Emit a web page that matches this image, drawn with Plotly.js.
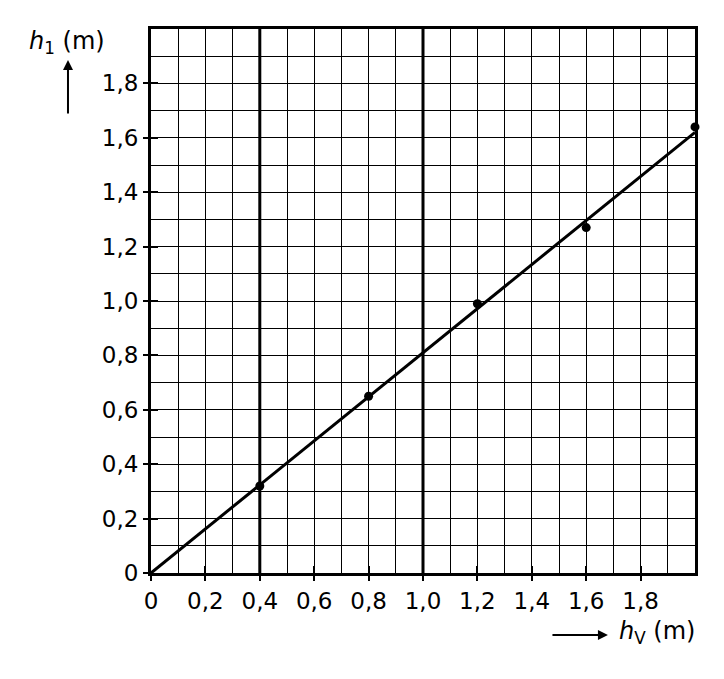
<!DOCTYPE html>
<html>
<head>
<meta charset="utf-8">
<script src="https://cdn.plot.ly/plotly-3.0.1.min.js"></script>
<style>
  body { margin: 0; background: #fff; }
  #chart { width: 724px; height: 679px; }
</style>
</head>
<body>
<div id="chart"></div>
<script>
// measured points h_v -> h_1 (m)
const hv = [0.4, 0.8, 1.2, 1.6, 2.0];
const h1 = [0.32, 0.65, 0.99, 1.27, 1.64];

// drawn best-fit line
const fitX = [0, 2.0];
const fitY = [0, 1.62];

// tick labels (decimal comma)
const tickVals = [0, 0.2, 0.4, 0.6, 0.8, 1.0, 1.2, 1.4, 1.6, 1.8];
const tickText = ["0", "0,2", "0,4", "0,6", "0,8", "1,0", "1,2", "1,4", "1,6", "1,8"];

// heavier grid lines in the original sheet
const heavyX = [0.4, 1.0];

const font = "DejaVu Sans";

const traces = [
    {
        x: hv,
        y: h1,
        type: "scatter",
        mode: "markers",
        marker: { color: "black", size: 9 },
        cliponaxis: false,
        hoverinfo: "skip"
    },
    {
        x: fitX,
        y: fitY,
        xaxis: "x2",
        yaxis: "y2",
        type: "scatter",
        mode: "lines",
        line: { color: "black", width: 3 },
        hoverinfo: "skip"
    }
];

const baseAxis = {
    range: [0, 2],
    tickmode: "array",
    tickvals: tickVals,
    ticktext: tickText,
    ticks: "outside",
    ticklen: 5,
    tickwidth: 2,
    tickcolor: "black",
    showgrid: true,
    gridcolor: "black",
    gridwidth: 1,
    minor: { tickmode: "linear", tick0: 0, dtick: 0.1, showgrid: true, gridcolor: "black", gridwidth: 1, ticks: "" },
    showline: true,
    mirror: true,
    linecolor: "black",
    linewidth: 3,
    zeroline: false,
    tickfont: { family: font, size: 23, color: "black" },
    fixedrange: true
};

// overlay axes just for the inner half of the tick marks
const innerAxis = {
    range: [0, 2],
    tickmode: "array",
    tickvals: tickVals,
    ticks: "inside",
    ticklen: 7,
    tickwidth: 2,
    tickcolor: "black",
    showticklabels: false,
    showgrid: false,
    showline: false,
    zeroline: false,
    fixedrange: true
};

const shapes = heavyX.map(v => ({
    type: "line",
    xref: "x",
    yref: "paper",
    x0: v, x1: v, y0: 0, y1: 1,
    line: { color: "black", width: 3 },
    layer: "below"
}));

const annotations = [
    {
        text: "<i>h</i><sub>1</sub> (m)",
        xref: "paper", yref: "paper",
        x: -0.154, y: 0.976,
        xanchor: "center", yanchor: "middle",
        showarrow: false,
        font: { family: font, size: 24, color: "black" }
    },
    {
        text: "",
        xref: "paper", yref: "paper",
        x: -0.1526, y: 0.943,
        ax: 0, ay: 55,
        showarrow: true,
        arrowhead: 2, arrowsize: 1, arrowwidth: 2, arrowcolor: "black"
    },
    {
        text: "<i>h</i><sub>V</sub> (m)",
        xref: "paper", yref: "paper",
        x: 0.93, y: -0.11,
        xanchor: "center", yanchor: "middle",
        showarrow: false,
        font: { family: font, size: 24, color: "black" }
    },
    {
        text: "",
        xref: "paper", yref: "paper",
        x: 0.84, y: -0.114,
        ax: -57, ay: 0,
        showarrow: true,
        arrowhead: 2, arrowsize: 1, arrowwidth: 2, arrowcolor: "black"
    }
];

const layout = {
    width: 724,
    height: 679,
    margin: { l: 151, r: 29, t: 29, b: 106 },
    paper_bgcolor: "white",
    plot_bgcolor: "white",
    showlegend: false,
    xaxis: baseAxis,
    yaxis: baseAxis,
    xaxis2: Object.assign({}, innerAxis, { overlaying: "x", side: "bottom" }),
    yaxis2: Object.assign({}, innerAxis, { overlaying: "y", side: "left" }),
    shapes: shapes,
    annotations: annotations
};

Plotly.newPlot("chart", traces, layout, { displayModeBar: false, staticPlot: true });
</script>
</body>
</html>
